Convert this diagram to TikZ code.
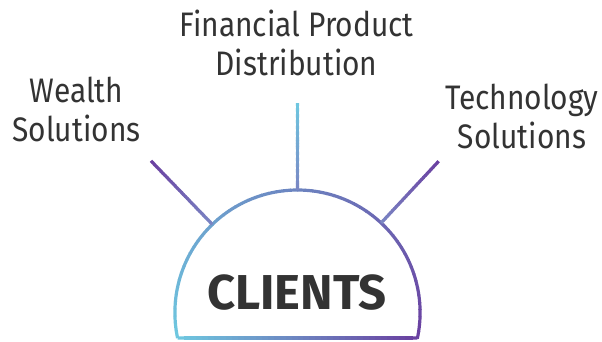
\documentclass[tikz,border=0pt]{standalone}
\usepackage{fontspec}
\setmainfont{Fira Sans}
\newfontfamily\labelfont[FakeStretch=0.88]{Fira Sans}
\newfontfamily\titlefont[FakeStretch=1.0]{Fira Sans}
\usetikzlibrary{calc}
\definecolor{cyanc}{HTML}{6EC8E0}
\definecolor{violc}{HTML}{6A3FA0}
\definecolor{midc}{HTML}{7A86C4}
\definecolor{ink}{HTML}{333333}

\begin{document}
\begin{tikzpicture}[x=1pt,y=1pt,
  lbl/.style={font=\labelfont\fontsize{34}{39}\selectfont,text=ink,
              align=center,inner sep=0pt,anchor=base},
  title/.style={font=\titlefont\bfseries\fontsize{49}{49}\selectfont,
                text=ink,inner sep=0pt,anchor=base},
  stroke/.style={line width=3.2pt,line cap=butt}]
\useasboundingbox (0,0) rectangle (602,341);
\def\rad{122.6}
\coordinate (ctr) at (297.5,28.4);
\coordinate (bl) at ($(ctr)+(192:\rad pt)$);
\coordinate (br) at ($(ctr)+(-12:\rad pt)$);
% spokes, inner end on the dome
\coordinate (wl-in) at ($(ctr)+(134:\rad pt)$);
\coordinate (wl-out) at ($(ctr)+(134:211pt)$);
\coordinate (fp-in) at ($(ctr)+(90:\rad pt)$);
\coordinate (fp-out) at ($(ctr)+(90:209.6pt)$);
\coordinate (tc-in) at ($(ctr)+(47:\rad pt)$);
\coordinate (tc-out) at ($(ctr)+(47:207pt)$);

% dome outline, shaded in small pieces
\foreach \i in {0,...,59}{
  \pgfmathsetmacro\aa{192-3.4*\i}
  \pgfmathsetmacro\ab{192-3.4*(\i+1)-0.3}
  \pgfmathsetmacro\p{100*(\i+0.5)/60}
  \draw[stroke,color=violc!\p!cyanc] ($(ctr)+(\aa:\rad pt)$)
    arc[start angle=\aa,end angle=\ab,radius=\rad pt];
}
\foreach \i in {0,...,39}{
  \pgfmathsetmacro\s{\i/40}
  \pgfmathsetmacro\t{min(1,(\i+1.2)/40)}
  \pgfmathsetmacro\p{100*(\i+0.5)/40}
  \draw[stroke,color=violc!\p!cyanc] ($(bl)!\s!(br)$) -- ($(bl)!\t!(br)$);
}

% spokes
\foreach \a/\b/\ca/\cb in {wl-in/wl-out/midc/violc,
                           fp-in/fp-out/midc/cyanc,
                           tc-in/tc-out/midc/violc}{
  \foreach \i in {0,...,29}{
    \pgfmathsetmacro\s{\i/30}
    \pgfmathsetmacro\t{min(1,(\i+1.2)/30)}
    \pgfmathsetmacro\p{100*(\i+0.5)/30}
    \draw[stroke,color=\cb!\p!\ca] ($(\a)!\s!(\b)$) -- ($(\a)!\t!(\b)$);
  }
}

% labels (base = last line)
\node[title] (clients) at (297,32) {CLIENTS};
\node[lbl] (wealth) at (76.5,199.5) {Wealth\\Solutions};
\node[lbl] (finprod) at (296.5,266) {Financial Product\\Distribution};
\node[lbl] (tech) at (522,192.7) {Technology\\Solutions};
\end{tikzpicture}
\end{document}
